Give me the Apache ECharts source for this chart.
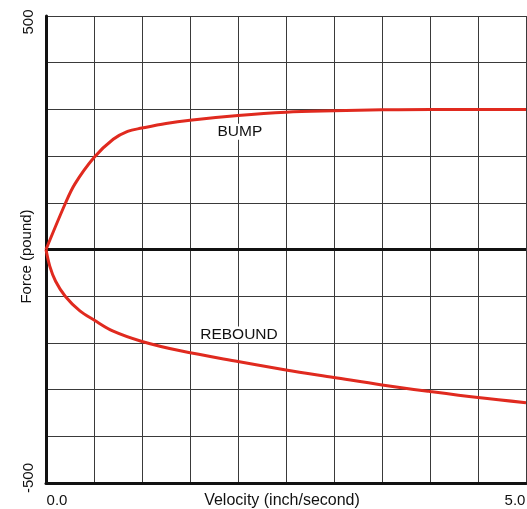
<!DOCTYPE html>
<html>
<head>
<meta charset="utf-8">
<script src="https://cdn.jsdelivr.net/npm/echarts@6/dist/echarts.min.js"></script>
<style>
  html, body { margin: 0; padding: 0; background: #fff; }
  #chart { width: 527px; height: 509px; }
</style>
</head>
<body>
<div id="chart"></div>
<script>
// 速度 (inch/second) 与力 (pound) 的数据
const bumpVelocity = [0, 0.2, 0.3, 0.5, 0.7, 0.85, 1.0, 1.25, 1.5, 2.0, 2.5, 3.0, 3.5, 4.0, 4.5, 5.0]
const bumpForce = [0, 98, 140, 197, 236, 253, 260, 270, 277, 287, 294, 297, 299, 300, 300, 300]

const reboundVelocity = [0, 0.04, 0.1, 0.2, 0.35, 0.5, 0.7, 1.0, 1.4, 2.0, 2.5, 3.0, 3.5, 4.0, 4.5, 5.0]
const reboundForce = [0, -36, -68, -100, -131, -151, -175, -197, -217, -240, -258, -274, -290, -304, -317, -328]

const curveLabels = ['BUMP', 'REBOUND']
const labelPoints = [[2.02, 252], [2.01, -182]] // 文字标注位置

const xTickLabels = { 0: '0.0', 5: '5.0' }
const yTickLabels = { 500: '500', '-500': '-500' }

const FONT = 'Liberation Sans, Arial, sans-serif'
const RED = '#e02a1f'

function pairs(xs, ys) {
  return xs.map((x, i) => [x, ys[i]])
}

const chart = echarts.init(document.getElementById('chart'))

chart.setOption({
  animation: false,
  backgroundColor: '#fff',
  grid: { left: 46, right: 1, top: 16, bottom: 26, outerBoundsMode: 'none', containLabel: false },
  xAxis: {
    type: 'value',
    min: 0,
    max: 5,
    interval: 0.5,
    name: 'Velocity (inch/second)',
    nameLocation: 'middle',
    nameGap: 10,
    nameMoveOverlap: false,
    nameTextStyle: { color: '#111', fontFamily: FONT, fontSize: 16, verticalAlign: 'top', padding: [0, 8, 0, 0] },
    axisLine: { show: true, onZero: false, lineStyle: { color: '#111', width: 3 } },
    axisTick: { show: false },
    splitLine: { show: true, lineStyle: { color: '#3a3a3a', width: 1 } },
    axisLabel: {
      margin: 10,
      color: '#111',
      fontFamily: FONT,
      fontSize: 15,
      formatter: v => {
        if (v === 0) return '{a|' + xTickLabels[0] + '}'
        if (v === 5) return '{b|' + xTickLabels[5] + '}'
        return ''
      },
      rich: {
        a: { fontFamily: FONT, fontSize: 15, color: '#111', padding: [0, 0, 0, 22] },
        b: { fontFamily: FONT, fontSize: 15, color: '#111', padding: [0, 22, 0, 0] }
      }
    }
  },
  yAxis: {
    type: 'value',
    min: -500,
    max: 500,
    interval: 100,
    name: 'Force (pound)',
    nameLocation: 'middle',
    nameGap: 12,
    nameMoveOverlap: false,
    nameTextStyle: { color: '#111', fontFamily: FONT, fontSize: 15, padding: [0, 14, 0, 0] },
    axisLine: { show: true, lineStyle: { color: '#111', width: 3 } },
    axisTick: { show: false },
    splitLine: { show: true, lineStyle: { color: '#3a3a3a', width: 1 } },
    axisLabel: {
      rotate: 90,
      margin: 10,
      color: '#111',
      fontFamily: FONT,
      fontSize: 15,
      formatter: v => {
        if (v === 500) return '{t|' + yTickLabels[500] + '}'
        if (v === -500) return '{b|' + yTickLabels['-500'] + '}'
        return ''
      },
      rich: {
        t: { fontFamily: FONT, fontSize: 15, color: '#111', padding: [0, 12, 0, 0] },
        b: { fontFamily: FONT, fontSize: 15, color: '#111', padding: [0, 0, 0, 10] }
      }
    }
  },
  series: [
    {
      name: curveLabels[0],
      type: 'line',
      data: pairs(bumpVelocity, bumpForce),
      smooth: 0.35,
      symbol: 'none',
      lineStyle: { color: RED, width: 3 },
      z: 5,
      markLine: {
        silent: true,
        symbol: 'none',
        label: { show: false },
        lineStyle: { color: '#111', width: 3, type: 'solid' },
        data: [{ yAxis: 0 }],
        z: 3
      },
      markPoint: {
        symbol: 'rect',
        symbolSize: 0,
        label: {
          show: true,
          formatter: curveLabels[0],
          color: '#111',
          fontFamily: FONT,
          fontSize: 15.5,
          backgroundColor: '#fff',
          padding: [0, 1]
        },
        data: [{ coord: labelPoints[0] }]
      }
    },
    {
      name: curveLabels[1],
      type: 'line',
      data: pairs(reboundVelocity, reboundForce),
      smooth: 0.35,
      symbol: 'none',
      lineStyle: { color: RED, width: 3 },
      z: 5,
      markPoint: {
        symbol: 'rect',
        symbolSize: 0,
        label: {
          show: true,
          formatter: curveLabels[1],
          color: '#111',
          fontFamily: FONT,
          fontSize: 15.5,
          backgroundColor: '#fff',
          padding: [0, 1]
        },
        data: [{ coord: labelPoints[1] }]
      }
    }
  ]
})
</script>
</body>
</html>
